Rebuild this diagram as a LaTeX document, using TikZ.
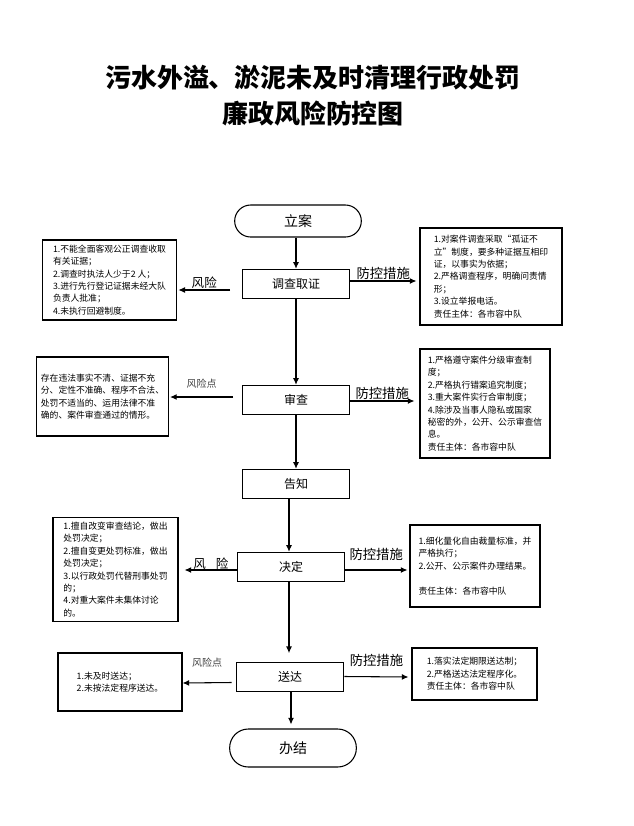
\documentclass[tikz,border=0pt]{standalone}
\usepackage{fontspec}
\setmainfont{Noto Sans CJK SC}
\usetikzlibrary{arrows.meta}

\begin{document}
\begin{tikzpicture}[x=0.75pt, y=-0.75pt, line width=0.8pt,
        stage/.style={draw, minimum width=80pt, minimum height=22pt, font=\fontsize{9pt}{11pt}\selectfont},
        terminal/.style={draw, rounded corners=12pt, minimum width=95pt, minimum height=24pt, font=\fontsize{10.5pt}{12pt}\selectfont},
        note/.style={draw, align=left, font=\fontsize{6.6pt}{9.3pt}\selectfont},
        arr/.style={-{Latex[length=5pt,width=4.5pt]}},
        measure/.style={font=\fontsize{10pt}{12pt}\selectfont, inner sep=1pt},
        risk/.style={font=\fontsize{9.4pt}{11pt}\selectfont, inner sep=1pt},
        riskpt/.style={font=\fontsize{7.5pt}{9pt}\selectfont, text=black!75, inner sep=1pt}]
                \useasboundingbox (0,0) rectangle (634,826);
                \node[font=\fontsize{19.5pt}{24pt}\selectfont\bfseries] (title) at (313,78) {污水外溢、淤泥未及时清理行政处罚};
                \node[font=\fontsize{19.5pt}{24pt}\selectfont\bfseries] (subtitle) at (313,114) {廉政风险防控图};

                \node[terminal] (lian) at (298,221) {立案};
                \node[stage] (diaocha) at (296,284) {调查取证};
                \node[stage] (shencha) at (296,400) {审查};
                \node[stage] (gaozhi) at (296,484) {告知};
                \node[stage] (jueding) at (291,567) {决定};
                \node[stage] (songda) at (290,677) {送达};
                \node[terminal, rounded corners=14pt, minimum height=28.5pt] (banjie) at (293,748) {办结};

                \node[note, minimum width=101pt, minimum height=60pt] (risk1) at (109.5,280) {1.不能全面客观公正调查收取\\有关证据；\\2.调查时执法人少于2 人；\\3.进行先行登记证据未经大队\\负责人批准；\\4.未执行回避制度。};
                \node[note, minimum width=106.5pt, minimum height=72.75pt] (ctrl1) at (491,276.5) {1.对案件调查采取“孤证不\\立”制度，要多种证据互相印\\证，以事实为依据；\\2.严格调查程序，明确问责情\\形；\\3.设立举报电话。\\责任主体：各市容中队};
                \node[note, minimum width=96.75pt, minimum height=59.25pt] (risk2) at (102.5,396.5) {存在违法事实不清、证据不充\\分、定性不准确、程序不合法、\\处罚不适当的、运用法律不准\\确的、案件审查通过的情形。};
                \node[note, minimum width=97.5pt, minimum height=81.75pt] (ctrl2) at (485,403.5) {1.严格遵守案件分级审查制\\度；\\2.严格执行错案追究制度；\\3.重大案件实行合审制度；\\4.除涉及当事人隐私或国家\\秘密的外，公开、公示审查信\\息。\\责任主体：各市容中队};
                \node[note, minimum width=93.75pt, minimum height=77.25pt] (risk3) at (115.5,569.5) {1.擅自改变审查结论，做出\\处罚决定；\\2.擅自变更处罚标准，做出\\处罚决定；\\3.以行政处罚代替刑事处罚\\的；\\4.对重大案件未集体讨论\\的。};
                \node[note, minimum width=97.5pt, minimum height=61.5pt] (ctrl3) at (475,566) {1.细化量化自由裁量标准，并\\严格执行；\\2.公开、公示案件办理结果。\\[9.3pt]责任主体：各市容中队};
                \node[note, minimum width=93pt, minimum height=43.5pt] (risk4) at (120,682) {1.未及时送达；\\2.未按法定程序送达。};
                \node[note, minimum width=93.75pt, minimum height=39pt] (ctrl4) at (474.5,674) {1.落实法定期限送达制；\\2.严格送达法定程序化。\\责任主体：各市容中队};

                \draw[arr] (lian.south -| diaocha.north) -- (diaocha.north);
                \draw[arr] (diaocha) -- (shencha);
                \draw[arr] (shencha) -- (gaozhi);
                \draw[arr] ([xshift=-5.25pt]gaozhi.south) -- ([xshift=-1.5pt]jueding.north);
                \draw[arr, shorten >=6.5pt] ([xshift=-1.5pt]jueding.south) -- ([xshift=-0.75pt]songda.north);
                \draw[arr, shorten >=3pt] ([xshift=0.75pt]songda.south) -- ([xshift=-1.5pt]banjie.north);

                \draw[arr] ([shift={(-12,6)}]diaocha.west) -- node[risk, above] {风险} ([shift={(1,10)}]risk1.east);
                \draw[arr] ([shift={(0,-3)}]diaocha.east) -- node[measure, above] {防控措施} ([shift={(-3,4.5)}]ctrl1.west);
                \draw[arr] ([shift={(-9,-3)}]shencha.west) -- node[riskpt, above=5pt] {风险点} ([shift={(1,0.5)}]risk2.east);
                \draw[arr] ([shift={(0,1)}]shencha.east) -- node[measure, above] {防控措施} ([shift={(-5,-2.5)}]ctrl2.west);
                \draw[arr] ([shift={(0,3)}]jueding.west) -- node[risk, above, inner sep=0pt] {风\hspace{0.8em}险} ([shift={(6,0.5)}]risk3.east);
                \draw[arr] ([shift={(0,3)}]jueding.east) -- node[measure, above=6pt] {防控措施} ([shift={(-2,4)}]ctrl3.west);
                \draw[arr] ([shift={(-4.5,5.5)}]songda.west) -- node[riskpt, above=10pt] {风险点} ([shift={(0,1)}]risk4.east);
                \draw[arr] ([shift={(0.5,-0.5)}]songda.east) -- node[measure, above=6pt] {防控措施} ([shift={(-3,3)}]ctrl4.west);
\end{tikzpicture}
\end{document}
